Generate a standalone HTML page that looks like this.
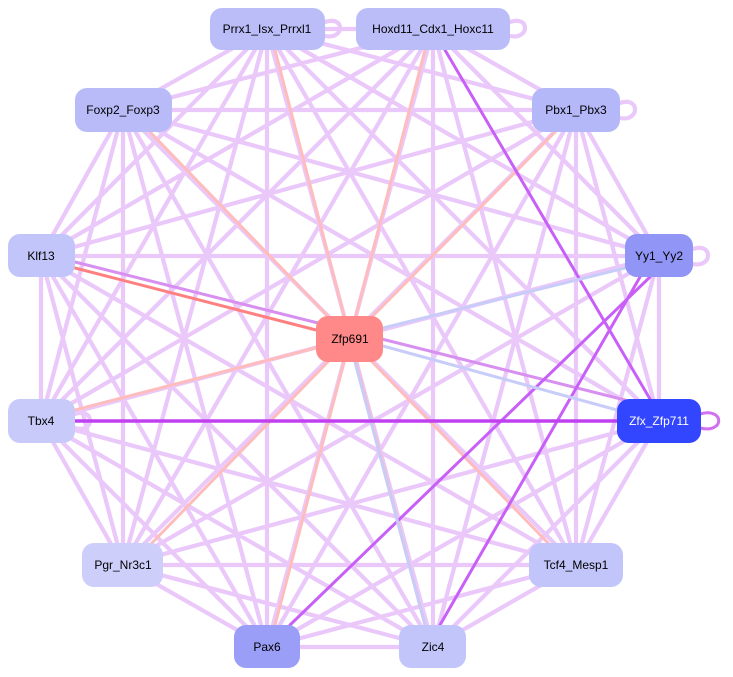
<!DOCTYPE html>
<html><head><meta charset="utf-8"><style>
html,body{margin:0;padding:0;background:#fff;width:733px;height:677px;overflow:hidden}
svg{display:block}
text{font-family:"Liberation Sans",Arial,sans-serif;font-size:12px;text-anchor:middle;dominant-baseline:central}
</style></head><body>
<svg width="733" height="677" viewBox="0 0 733 677" xmlns="http://www.w3.org/2000/svg">
<g fill="none" stroke="#eac8fa" stroke-width="4.2" stroke-linecap="round">
<path d="M267,29L433,29 M267,29L123,110 M267,29L576,110 M267,29L41,256 M267,29L659,256 M267,29L41,421 M267,29L659,421 M267,29L123,565 M267,29L576,565 M267,29L267,647 M267,29L433,647
M433,29L123,110 M433,29L576,110 M433,29L41,256 M433,29L659,256 M433,29L41,421 M433,29L123,565 M433,29L576,565 M433,29L267,647 M433,29L433,647
M123,110L576,110 M123,110L41,256 M123,110L659,256 M123,110L41,421 M123,110L659,421 M123,110L123,565 M123,110L576,565 M123,110L267,647 M123,110L433,647
M576,110L41,256 M576,110L659,256 M576,110L41,421 M576,110L659,421 M576,110L123,565 M576,110L576,565 M576,110L267,647 M576,110L433,647
M41,256L659,256 M41,256L41,421 M41,256L123,565 M41,256L576,565 M41,256L267,647 M41,256L433,647
M659,256L41,421 M659,256L659,421 M659,256L123,565 M659,256L576,565
M41,421L123,565 M41,421L576,565 M41,421L267,647 M41,421L433,647
M659,421L123,565 M659,421L576,565 M659,421L267,647 M659,421L433,647
M123,565L576,565 M123,565L267,647 M123,565L433,647
M576,565L267,647 M576,565L433,647 M267,647L433,647"/>
<path d="M325,22C345,15 345,40 325,36 M510,22C530,15 530,40 510,36 M620,103C640,96 640,122 620,118 M693,249C713,242 713,268 693,264 M75,414C95,407 95,434 75,428"/>
</g>
<g fill="none" stroke-width="3" stroke-linecap="round">
<path stroke="#ffbcbc" d="M350,339L275,50 M350,339L425,50 M350,339L150,132 M350,339L555,132 M350,339L75,410 M350,339L150,545 M350,339L550,545 M350,339L275,625 M350,339L425,625"/>
<path stroke="#ff8080" d="M316,330L75,268"/>
<path stroke="#d890f0" d="M75,262L625,400"/>
<path stroke="#c860f8" d="M640,277L440,625 M650,277L290,625 M445,50L650,399"/>
<path stroke="#c8ccf8" d="M625,268L383,328 M617,410L383,346 M425,625L355,362"/>
<path stroke="#c040f0" stroke-width="3.5" d="M617,421L48,421"/>
<path stroke="#d070f0" d="M700,414C725,407 725,434 700,428"/>
</g>
<path d="M41,421l14,-6v12z" fill="#c040f0"/>
<g>
<rect x="210" y="8" width="115" height="42" rx="12" fill="#babdf8"/>
<rect x="356" y="8" width="154" height="42" rx="12" fill="#babdf8"/>
<rect x="75" y="88" width="97" height="44" rx="12" fill="#b8bbf8"/>
<rect x="532" y="88" width="88" height="44" rx="12" fill="#b4b7f8"/>
<rect x="8" y="234" width="67" height="43" rx="12" fill="#c2c5f9"/>
<rect x="625" y="234" width="68" height="43" rx="12" fill="#9196f6"/>
<rect x="316" y="316" width="67" height="46" rx="12" fill="#ff8888"/>
<rect x="8" y="399" width="67" height="44" rx="12" fill="#c8caf9"/>
<rect x="617" y="399" width="84" height="44" rx="12" fill="#3346ff"/>
<rect x="82" y="543" width="81" height="44" rx="12" fill="#cdcffa"/>
<rect x="529" y="543" width="94" height="44" rx="12" fill="#c2c5f9"/>
<rect x="234" y="625" width="66" height="43" rx="12" fill="#9a9ef6"/>
<rect x="399" y="625" width="67" height="43" rx="12" fill="#c2c5f9"/>
</g>
<text x="267" y="29">Prrx1_Isx_Prrxl1</text>
<text x="433" y="29">Hoxd11_Cdx1_Hoxc11</text>
<text x="123" y="110">Foxp2_Foxp3</text>
<text x="576" y="110">Pbx1_Pbx3</text>
<text x="41" y="256">Klf13</text>
<text x="659" y="256">Yy1_Yy2</text>
<text x="350" y="339">Zfp691</text>
<text x="41" y="421">Tbx4</text>
<text x="659" y="421" fill="#fff">Zfx_Zfp711</text>
<text x="123" y="565">Pgr_Nr3c1</text>
<text x="576" y="565">Tcf4_Mesp1</text>
<text x="267" y="647">Pax6</text>
<text x="433" y="647">Zic4</text>
</svg>
</body></html>
